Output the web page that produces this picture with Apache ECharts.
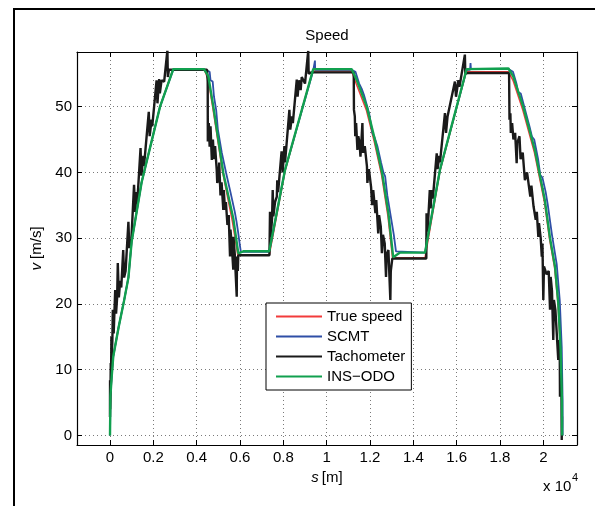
<!DOCTYPE html>
<html><head><meta charset="utf-8">
<script src="https://cdn.jsdelivr.net/npm/echarts@6/dist/echarts.min.js"></script>
<style>html,body{margin:0;padding:0;background:#fff}#c{width:595px;height:506px}</style>
</head><body><div id="c"></div>
<script>
// s in metres, v in m/s
const xTicks = [0,2000,4000,6000,8000,10000,12000,14000,16000,18000,20000];
const yTicks = [0,10,20,30,40,50];
const seriesNames = ['True speed','SCMT','Tachometer','INS\u2212ODO'];

const trueSpeed = [[0,0],[20,6],[80,9],[150,12],[400,16.5],[650,20.5],[850,24],[1000,29.5],[1460,38.5],[2310,50],[2900,55.6],[4360,55.6],[4540,54],[4760,49.5],[5200,40],[5650,32.5],[5900,27.4],[7350,27.4],[8080,40.2],[9350,55.4],[11150,55.4],[11360,53.5],[11830,49.5],[12210,44.5],[12540,39.5],[12830,33.3],[13040,27],[14540,27],[15230,40.2],[16440,55.3],[18390,55.3],[18600,54],[19050,49.5],[19590,43],[20050,35.5],[20290,29.8],[20520,25.5],[20680,20],[20790,13],[20850,5.4],[20865,0]];

const scmt = [[0,0],[20,6],[80,9],[150,12],[400,16.5],[650,20.5],[850,24],[1000,29.5],[1460,38.5],[2310,50],[2920,55.6],[4400,55.6],[4600,55.3],[4640,54],[4740,53.8],[4800,51.5],[4900,49.5],[4980,46.5],[5060,46.2],[5160,43],[5360,39.9],[5440,39.7],[5560,37],[5760,34],[5840,32.5],[5910,31],[5990,29],[6040,27.9],[7350,27.9],[8080,40.4],[9380,55.5],[9440,55.5],[9460,57],[9470,55.6],[11150,55.6],[11330,55.3],[11500,53.5],[11620,52.7],[11720,51.8],[11960,49],[12110,46],[12200,45.4],[12340,44],[12510,41.5],[12620,40],[12700,39.4],[12800,36.5],[12950,33.5],[13100,30.5],[13200,28],[13280,27.8],[14540,27.8],[15230,40.4],[16460,55.6],[16620,55.6],[16640,56.6],[16660,55.7],[18390,55.7],[18600,55.3],[18760,53.5],[18840,52.2],[18960,52],[19160,49.5],[19360,47],[19480,45.4],[19580,45],[19760,42],[19860,39.6],[19960,39.2],[20110,37],[20210,35],[20400,30.5],[20620,26],[20760,20.5],[20850,13.5],[20890,5.5],[20895,0]];

const tachometer = [[0,2.8],[3,8.4],[10,4],[25,7.5],[35,11],[50,9],[65,15],[80,12],[110,14.5],[130,19.1],[170,15.5],[240,22.1],[280,18.5],[330,21],[360,26.2],[410,21],[470,23.5],[520,22.5],[610,28.2],[650,24],[720,25],[850,32.5],[890,28.5],[990,30],[1110,38.1],[1160,34],[1230,37],[1260,35.5],[1410,43.7],[1450,39.5],[1540,42.5],[1570,41],[1790,49.2],[1830,45.5],[1920,48],[1950,47],[2150,54],[2190,50.5],[2270,54.2],[2300,52],[2380,54],[2500,53.8],[2650,58.6],[2670,54.5],[2720,55.6],[4480,55.6],
[4500,55.3],[4510,53.8],[4515,44.7],[4560,47.5],[4600,43.9],[4640,47],[4700,41.9],[4750,45],[4800,42],[4850,44],[4925,40.4],[4950,38.4],[5000,38.9],[5040,41.5],[5100,36.5],[5150,38.5],[5230,34.3],[5250,37.3],[5310,34.3],[5350,35.5],[5420,32],[5480,33.5],[5540,27.2],[5560,31.3],[5620,29],[5690,25.2],[5700,30.2],[5760,27.5],[5850,21.1],[5860,27.2],[5900,25],[5920,27.4],[7360,27.4],
[7380,27.6],[7385,34],[7420,30.2],[7480,33],[7510,37.3],[7540,33.3],[7620,35.5],[7700,36.3],[7720,38.8],[7760,37],[7920,43.2],[7970,40],[8050,44],[8080,41.5],[8280,49.5],[8320,46.5],[8400,48.5],[8440,47.5],[8620,54.1],[8660,51.5],[8720,54],[8800,52.5],[8850,54.5],[9000,53.5],[9150,58.5],[9170,55],[9300,55.2],[11250,55.2],
[11260,49.5],[11300,48.5],[11320,45.5],[11360,47.5],[11420,43.4],[11460,45.5],[11520,44.5],[11560,42.4],[11600,44.5],[11650,47.5],[11680,43],[11760,44],[11860,40.9],[11880,38.4],[11950,40.5],[12050,37.8],[12100,35],[12150,37.3],[12250,33.8],[12290,35.8],[12380,30.7],[12420,33.5],[12500,31.7],[12550,27.7],[12600,30.5],[12680,29.2],[12740,24.1],[12770,27.5],[12850,28.2],[12940,20.6],[12960,25],[13030,26.9],[14600,26.9],
[14610,33.8],[14660,31],[14760,37.3],[14800,34.5],[14840,37.3],[14900,36],[15080,42.9],[15120,40.5],[15200,42.5],[15230,41.5],[15460,49],[15510,46],[15580,48.5],[15920,53.8],[15970,51.5],[16080,54],[16130,53],[16380,57.9],[16400,55],[16500,55.1],[18420,55.1],
[18440,48],[18480,49],[18500,46],[18560,47.5],[18620,45],[18700,46],[18770,41.4],[18800,44.5],[18900,45.5],[18950,42],[19050,43],[19150,38.8],[19250,40],[19400,36.3],[19450,38],[19550,34.8],[19650,32.8],[19700,34],[19770,30.2],[19800,32.3],[19880,30],[19930,27.2],[19960,29.2],[20000,20.6],[20030,25.7],[20150,24.5],[20250,25],[20310,19.1],[20340,24.1],[20400,22],[20460,14.5],[20490,20.6],[20560,19],[20690,11.5],[20710,14.5],[20760,12],[20770,5.9],[20800,10.5],[20840,6],[20850,-0.7],[20860,2.9]];

const insOdo = [[0,0],[20,6],[80,9],[150,12],[400,16.5],[650,20.5],[850,24],[1000,29.5],[1460,38.5],[2310,50],[2920,55.7],[4340,55.7],[4540,54.6],[4770,50],[5230,39.9],[5690,33],[5920,27.7],[5970,27.4],[6150,28],[7350,28],[8080,40.4],[9380,55.7],[11150,55.7],[11380,54.1],[11850,50],[12230,44.9],[12560,39.9],[12850,33.8],[13070,27.1],[13390,27.8],[14540,27.8],[15230,40.4],[16460,55.7],[18390,55.8],[18610,54.6],[19070,50],[19610,43.4],[20070,35.8],[20310,30],[20540,25.7],[20690,20.1],[20800,13],[20860,5.4],[20870,0]];

const FONT = '"Liberation Sans", Arial, Helvetica, sans-serif';
const chart = echarts.init(document.getElementById('c'), null, {renderer: 'canvas'});
const gridLine = {show: true, lineStyle: {type: [1, 3], color: '#7a7a7a', width: 1}};
const axLine = {show: true, onZero: false, lineStyle: {color: '#000', width: 1.2}};
chart.setOption({
  animation: false,
  backgroundColor: '#fff',
  grid: {left: 77, top: 52, width: 500, height: 393, containLabel: false},
  graphic: [
    {type: 'rect', shape: {x: 14, y: 9, width: 800, height: 800}, style: {fill: 'none', stroke: '#000', lineWidth: 2}, silent: true},
    {type: 'text', x: 327, y: 36, style: {text: 'Speed', align: 'center', verticalAlign: 'middle', font: '15px ' + FONT, fill: '#000'}},
    {type: 'text', x: 543, y: 487, style: {text: 'x 10', align: 'left', verticalAlign: 'middle', font: '15px ' + FONT, fill: '#000'}},
    {type: 'text', x: 572, y: 478, style: {text: '4', align: 'left', verticalAlign: 'middle', font: '11px ' + FONT, fill: '#000'}}
  ],
  legend: {
    show: true, orient: 'vertical', left: 266, top: 303,
    data: seriesNames, selectedMode: false,
    icon: 'rect', itemWidth: 46, itemHeight: 2, itemGap: 5,
    padding: [6, 6, 6, 10],
    borderColor: '#000', borderWidth: 1, backgroundColor: '#fff',
    textStyle: {fontSize: 15, fontFamily: FONT, color: '#000'}
  },
  xAxis: [{
    type: 'value', position: 'bottom', min: -1523, max: 21555,
    axisLine: axLine,
    axisTick: {show: true, inside: true, length: 5, customValues: xTicks, lineStyle: {color: '#000'}},
    axisLabel: {show: true, customValues: xTicks, margin: 5, fontSize: 15, fontFamily: FONT, color: '#000',
      formatter: v => String(Math.round(v / 1000) / 10)},
    splitLine: gridLine,
    name: '{i|s}[m]', nameLocation: 'middle', nameGap: 23,
    nameTextStyle: {fontSize: 15, fontFamily: FONT, color: '#000', rich: {i: {fontStyle: 'italic', fontSize: 15, fontFamily: FONT, color: '#000', padding: [0, 3, 0, 0]}}}
  }, {
    type: 'value', position: 'top', min: -1523, max: 21555,
    axisLine: axLine,
    axisTick: {show: true, inside: true, length: 5, customValues: xTicks, lineStyle: {color: '#000'}},
    axisLabel: {show: false}, splitLine: {show: false}
  }],
  yAxis: [{
    type: 'value', position: 'left', min: -1.45, max: 58.3,
    axisLine: axLine,
    axisTick: {show: true, inside: true, length: 5, customValues: yTicks, lineStyle: {color: '#000'}},
    axisLabel: {show: true, customValues: yTicks, margin: 5, fontSize: 15, fontFamily: FONT, color: '#000'},
    splitLine: gridLine,
    name: '{i|v} [m/s]', nameLocation: 'middle', nameGap: 28,
    nameTextStyle: {fontSize: 15, fontFamily: FONT, color: '#000', rich: {i: {fontStyle: 'italic', fontSize: 15, fontFamily: FONT, color: '#000'}}}
  }, {
    type: 'value', position: 'right', min: -1.45, max: 58.3,
    axisLine: axLine,
    axisTick: {show: true, inside: true, length: 5, customValues: yTicks, lineStyle: {color: '#000'}},
    axisLabel: {show: false}, splitLine: {show: false}
  }],
  series: [
    {name: seriesNames[0], type: 'line', data: trueSpeed, showSymbol: false, symbol: 'none', color: '#f23b3b', lineStyle: {width: 1.5, color: '#f23b3b'}, z: 2},
    {name: seriesNames[1], type: 'line', data: scmt, showSymbol: false, symbol: 'none', color: '#2f4fa6', lineStyle: {width: 1.8, color: '#2f4fa6'}, z: 3},
    {name: seriesNames[2], type: 'line', data: tachometer, showSymbol: false, symbol: 'none', color: '#1a1a1a', lineStyle: {width: 2.4, color: '#1a1a1a'}, z: 4},
    {name: seriesNames[3], type: 'line', data: insOdo, showSymbol: false, symbol: 'none', color: '#11a04f', lineStyle: {width: 2.4, color: '#11a04f'}, z: 5}
  ]
});
</script>
</body></html>
